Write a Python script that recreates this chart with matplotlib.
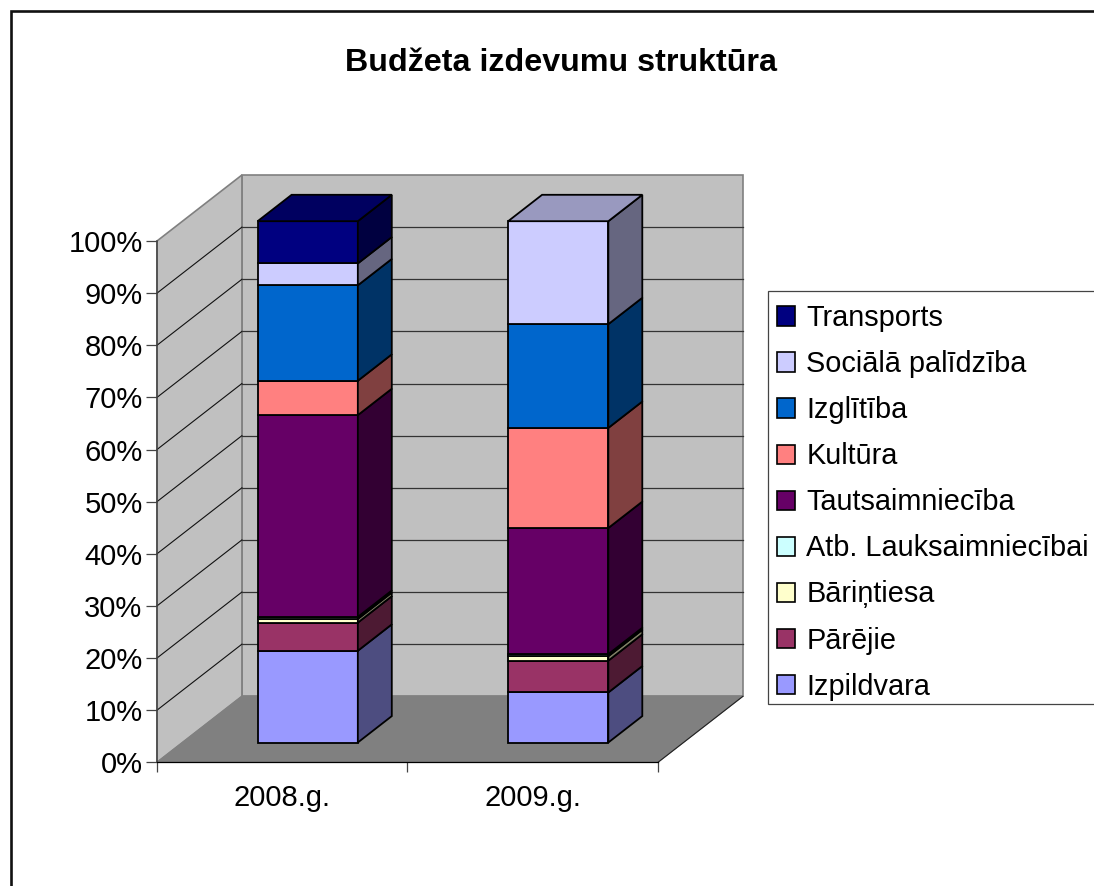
import matplotlib
matplotlib.use("Agg")
import matplotlib.pyplot as plt
from matplotlib.patches import Polygon, Patch, Rectangle
from matplotlib.lines import Line2D
from matplotlib.ticker import FixedLocator, PercentFormatter

plt.rcParams['font.family'] = ['Liberation Sans', 'DejaVu Sans']

title = "Budžeta izdevumu struktūra"
categories = ["2008.g.", "2009.g."]
series = ["Izpildvara", "Pārējie", "Bāriņtiesa", "Atb. Lauksaimniecībai",
          "Tautsaimniecība", "Kultūra", "Izglītība", "Sociālā palīdzība", "Transports"]
values_2008 = [17.6, 5.4, 0.7, 0.4, 38.7, 6.6, 18.3, 4.2, 8.1]
values_2009 = [9.6, 6.1, 0.85, 0.4, 24.2, 19.2, 19.9, 19.75, 0.0]
colors = ["#9999FF", "#993366", "#FFFFCC", "#CCFFFF", "#660066",
          "#FF8080", "#0066CC", "#CCCCFF", "#000080"]
side_colors = ["#4D4D80", "#4D1A33", "#808066", "#668080", "#330033",
               "#804040", "#003366", "#666680", "#000040"]
top_colors = ["#7373BF", "#73264D", "#BFBF99", "#99BFBF", "#4D004D",
              "#BF6060", "#004C99", "#9999BF", "#000060"]

W, H = 1094, 886
fig = plt.figure(figsize=(W / 100, H / 100), dpi=100, facecolor="white")
ax = fig.add_axes([157 / W, (H - 762.3) / H, 501 / W, 521.3 / H])
ax.set_xlim(0, 2)
ax.set_ylim(0, 100)
ax.patch.set_visible(False)

# oblique depth of the 3-D box, in data units
DX, DY = 0.339, 12.66
BAR_W = 0.40
D_FRONT, D_BACK = 0.30, 0.70


def poly(pts, fc, ec, lw, z):
    ax.add_patch(Polygon(pts, closed=True, facecolor=fc, edgecolor=ec, linewidth=lw,
                         joinstyle="miter", zorder=z, clip_on=False))


# walls and floor
poly([(DX, DY), (2 + DX, DY), (2 + DX, 100 + DY), (DX, 100 + DY)], "#C0C0C0", "#808080", 1.2, 1)
poly([(0, 0), (DX, DY), (DX, 100 + DY), (0, 100)], "#C0C0C0", "#808080", 1.2, 1)
poly([(0, 0), (2, 0), (2 + DX, DY), (DX, DY)], "#808080", "#808080", 0.8, 1.5)
ax.plot([2, 2 + DX], [0, DY], color="#222222", lw=0.8, zorder=2, clip_on=False)

# gridlines
for v in range(10, 100, 10):
    ax.plot([0, DX], [v, v + DY], color="#111111", lw=0.8, zorder=2, clip_on=False)
    ax.plot([DX, 2 + DX], [v + DY, v + DY], color="#333333", lw=0.9, zorder=2, clip_on=False)

# bars
for i, vals in enumerate([values_2008, values_2009]):
    x0 = i + 0.5 - BAR_W / 2 + D_FRONT * DX
    x1 = x0 + BAR_W
    dy0 = D_FRONT * DY
    ddx = (D_BACK - D_FRONT) * DX
    ddy = (D_BACK - D_FRONT) * DY
    base = 0.0
    top_idx = max(j for j, v in enumerate(vals) if v > 0)
    for j, v in enumerate(vals):
        if v <= 0:
            continue
        y0, y1 = base + dy0, base + v + dy0
        poly([(x0, y0), (x1, y0), (x1, y1), (x0, y1)], colors[j], "black", 1.3, 5)
        poly([(x1, y0), (x1 + ddx, y0 + ddy), (x1 + ddx, y1 + ddy), (x1, y1)],
             side_colors[j], "black", 1.3, 5)
        if j == top_idx:
            poly([(x0, y1), (x1, y1), (x1 + ddx, y1 + ddy), (x0 + ddx, y1 + ddy)],
                 top_colors[j], "black", 1.3, 5)
        base += v

# axes
for s in ("top", "right"):
    ax.spines[s].set_visible(False)
ax.spines["left"].set_color("#444444")
ax.spines["left"].set_linewidth(1.1)
ax.spines["bottom"].set_color("black")
ax.spines["bottom"].set_linewidth(0.9)
ax.spines["left"].set_zorder(3)
ax.spines["bottom"].set_zorder(3)

ax.yaxis.set_major_locator(FixedLocator(list(range(0, 101, 10))))
ax.yaxis.set_major_formatter(PercentFormatter(100, decimals=0))
ax.tick_params(axis="y", length=8, width=0.9, color="#444444", labelsize=21, pad=2.4)
ax.set_xticks([0, 1, 2])
ax.set_xticklabels([])
ax.set_xticks([0.5, 1.5], minor=True)
ax.set_xticklabels(categories, minor=True)
ax.tick_params(axis="x", which="major", length=7.2, width=0.9, color="#444444")
ax.tick_params(axis="x", which="minor", length=0, labelsize=21, pad=15.4)

# title
fig.text(561 / W, 1 - 63 / H, title, ha="center", va="center", fontsize=23.2, fontweight="bold")

# outer frame (right and bottom fall outside the picture)
fig.add_artist(Line2D([10.5 / W, 10.5 / W, 1], [0, 1 - 11 / H, 1 - 11 / H], color="#111111",
                      lw=1.9, solid_joinstyle="miter"))

# legend box runs off the right edge of the picture
fig.add_artist(Rectangle((767.5 / W, 1 - 704 / H), 340 / W, 413 / H, transform=fig.transFigure,
                         facecolor="white", edgecolor="#444444", linewidth=0.9))
handles = [Patch(facecolor=c, edgecolor="black", linewidth=1.2) for c in colors][::-1]
leg = fig.legend(handles, series[::-1], loc="upper left",
                 bbox_to_anchor=(767 / W, 1 - 294.6 / H), bbox_transform=fig.transFigure,
                 fontsize=20.8, frameon=False, borderpad=0.33, borderaxespad=0, labelspacing=0.625,
                 handlelength=0.65, handleheight=0.65, handletextpad=0.38)

fig.savefig("out.png", dpi=100, facecolor="white")
